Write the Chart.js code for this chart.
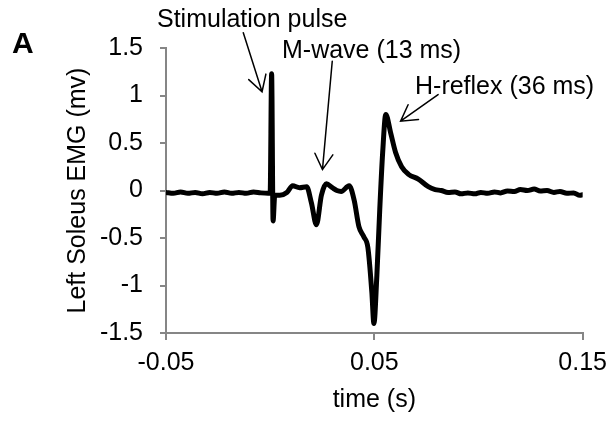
<!DOCTYPE html>
<html>
<head>
<meta charset="utf-8">
<title>Left Soleus EMG</title>
<script src="https://cdn.jsdelivr.net/npm/chart.js@4"></script>
<style>
  html, body { margin: 0; padding: 0; background: #fff; }
  #wrap { position: relative; width: 615px; height: 421px; }
</style>
</head>
<body>
<div id="wrap"><canvas id="chart"></canvas></div>
<script>
// trace (time in s, EMG in mV)
const timeS = [
  -0.050, -0.0465, -0.043, -0.0395, -0.036, -0.0325, -0.029, -0.0255, -0.022,
  -0.0185, -0.015, -0.0115, -0.008, -0.0045, -0.001,
  0.0000, 0.0007, 0.0014, 0.0022, 0.0046, 0.0080, 0.0108, 0.0141, 0.0175,
  0.0198, 0.0222, 0.0246, 0.0270, 0.0298, 0.0320, 0.0341, 0.0379, 0.0403,
  0.0426, 0.0450, 0.0469, 0.0488, 0.0498, 0.0512, 0.0526, 0.0540, 0.0555,
  0.0578, 0.0602, 0.0631, 0.0664, 0.0711, 0.0759, 0.0792, 0.0821, 0.0854,
  0.0887, 0.0916, 0.0949, 0.0982, 0.1011, 0.1044, 0.1077, 0.1106, 0.1139,
  0.1172, 0.1201, 0.1234, 0.1267, 0.1296, 0.1329, 0.1362, 0.1391, 0.1424,
  0.1457, 0.1486, 0.1500
];
const emgMv = [
  -0.02, -0.03, -0.015, -0.03, -0.02, -0.035, -0.02, -0.03, -0.015,
  -0.03, -0.02, -0.03, -0.015, -0.025, -0.03,
  -0.02, 1.23, -0.32, -0.05, -0.05, -0.02, 0.05, 0.03, 0.04,
  -0.13, -0.36, -0.05, 0.07, 0.03, 0.0, -0.01, 0.05, -0.10,
  -0.38, -0.49, -0.60, -1.07, -1.40, -0.90, -0.20, 0.40, 0.80,
  0.61, 0.40, 0.25, 0.17, 0.12, 0.04, 0.01, 0.0, -0.02,
  -0.015, -0.035, -0.025, -0.035, -0.02, -0.03, -0.015, -0.025, -0.005,
  -0.01, 0.01, 0.0, 0.015, -0.005, 0.0, -0.02, -0.01, -0.03,
  -0.025, -0.05, -0.045
];

const xTicks = [-0.05, 0.05, 0.15];
const xTickLabels = ['-0.05', '0.05', '0.15'];
const yTicks = [-1.5, -1, -0.5, 0, 0.5, 1, 1.5];
const yTickLabels = ['-1.5', '-1', '-0.5', '0', '0.5', '1', '1.5'];

// arrows in data units: [time, mV]
const arrows = [
  { from: [-0.0129, 1.66], to: [-0.0039, 1.04] },
  { from: [0.0298, 1.36], to: [0.0251, 0.22] },
  { from: [0.0806, 1.01], to: [0.0626, 0.73] }
];
const labels = [
  { text: 'Stimulation pulse', x: 157, y: 27, font: '25px "Liberation Sans", Arial, sans-serif' },
  { text: 'M-wave (13 ms)', x: 282, y: 58, font: '25px "Liberation Sans", Arial, sans-serif' },
  { text: 'H-reflex (36 ms)', x: 415, y: 94, font: '25px "Liberation Sans", Arial, sans-serif' },
  { text: 'A', x: 12, y: 53, font: 'bold 30px "Liberation Sans", Arial, sans-serif' }
];

const axisGrey = '#868686';
const font = { family: '"Liberation Sans", Arial, sans-serif', size: 25 };

const annotate = {
  id: 'annotate',
  afterDraw(chart) {
    const { ctx, scales: { x, y } } = chart;
    ctx.save();
    ctx.strokeStyle = '#000';
    ctx.lineWidth = 1.5;
    ctx.lineCap = 'round';
    arrows.forEach(a => {
      const x1 = x.getPixelForValue(a.from[0]), y1 = y.getPixelForValue(a.from[1]);
      const x2 = x.getPixelForValue(a.to[0]), y2 = y.getPixelForValue(a.to[1]);
      const ang = Math.atan2(y1 - y2, x1 - x2);
      const len = 18, spread = Math.PI / 6;
      ctx.beginPath();
      ctx.moveTo(x1, y1);
      ctx.lineTo(x2, y2);
      ctx.moveTo(x2 + len * Math.cos(ang - spread), y2 + len * Math.sin(ang - spread));
      ctx.lineTo(x2, y2);
      ctx.lineTo(x2 + len * Math.cos(ang + spread), y2 + len * Math.sin(ang + spread));
      ctx.stroke();
    });
    ctx.fillStyle = '#000';
    ctx.textAlign = 'left';
    ctx.textBaseline = 'alphabetic';
    labels.forEach(l => {
      ctx.font = l.font;
      ctx.fillText(l.text, l.x, l.y);
    });
    ctx.restore();
  }
};

new Chart(document.getElementById('chart'), {
  type: 'line',
  data: {
    datasets: [{
      data: timeS.map((t, i) => ({ x: t, y: emgMv[i] })),
      borderColor: '#000',
      borderWidth: 5,
      borderJoinStyle: 'round',
      borderCapStyle: 'round',
      pointRadius: 0,
      cubicInterpolationMode: 'monotone',
      fill: false
    }]
  },
  options: {
    responsive: true,
    maintainAspectRatio: false,
    animation: false,
    devicePixelRatio: 1,
    layout: { padding: { top: 48, right: 29, left: 0, bottom: 0 } },
    plugins: { legend: { display: false }, tooltip: { enabled: false } },
    scales: {
      x: {
        type: 'linear',
        min: -0.05,
        max: 0.15,
        afterBuildTicks: s => { s.ticks = xTicks.map(v => ({ value: v })); },
        afterFit: s => { s.height = 88; },
        ticks: {
          callback: (v, i) => xTickLabels[i],
          font: font, color: '#000', padding: 8, maxRotation: 0, autoSkip: false
        },
        grid: { drawOnChartArea: false, tickLength: 7, color: axisGrey, lineWidth: 2 },
        border: { color: axisGrey, width: 2 },
        title: { display: true, text: 'time (s)', font: font, color: '#000', padding: { top: 0, bottom: 6 } }
      },
      y: {
        min: -1.5,
        max: 1.5,
        afterBuildTicks: s => { s.ticks = yTicks.map(v => ({ value: v })); },
        afterFit: s => { s.width = 166; },
        ticks: {
          callback: (v, i) => yTickLabels[i],
          font: font, color: '#000', padding: 17, autoSkip: false
        },
        grid: { drawOnChartArea: false, tickLength: 6, color: axisGrey, lineWidth: 2 },
        border: { color: axisGrey, width: 2 },
        title: { display: true, text: 'Left Soleus EMG (mv)', font: font, color: '#000', padding: { top: 63, bottom: 0 } }
      }
    }
  },
  plugins: [annotate]
});
</script>
</body>
</html>
